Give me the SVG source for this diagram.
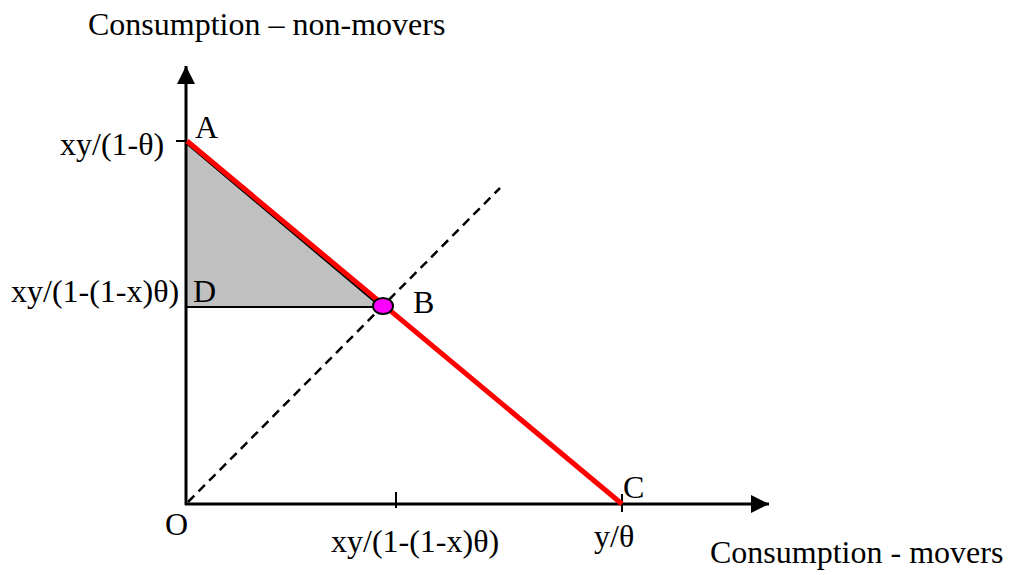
<svg xmlns="http://www.w3.org/2000/svg" width="1011" height="575" viewBox="0 0 1011 575">
<style>
text{font-family:"Liberation Serif","Times New Roman",serif;font-size:32px;fill:#000}
.ax{stroke:#000;stroke-width:3;fill:none}
.tk{stroke:#000;stroke-width:2;fill:none}
</style>
<defs>
<marker id="ah" markerUnits="userSpaceOnUse" markerWidth="20" markerHeight="18" refX="18" refY="9" orient="auto">
<path d="M0,0 L18,9 L0,18 Z" fill="#000"/>
</marker>
</defs>
<rect width="1011" height="575" fill="#fff"/>
<g id="shading">
<polygon points="186,143 186,307 381,307" fill="#c0c0c0" stroke="#000" stroke-width="2"/>
</g>
<g id="connectors">
<line class="ax" x1="186" y1="505" x2="186" y2="66" marker-end="url(#ah)"/>
<line class="ax" x1="185" y1="504" x2="769" y2="504" marker-end="url(#ah)"/>
<line x1="188" y1="502" x2="500" y2="188" stroke="#000" stroke-width="2.5" stroke-dasharray="9,6"/>
<line class="tk" x1="176" y1="141" x2="186" y2="141"/>
<line class="tk" x1="396" y1="492" x2="396" y2="508"/>
<line class="tk" x1="622" y1="494" x2="622" y2="512"/>
<line x1="187" y1="141" x2="622" y2="504" stroke="#f00" stroke-width="5"/>
</g>
<g id="pointB">
<ellipse cx="383" cy="306" rx="10" ry="8" fill="#f0f" stroke="#000" stroke-width="2"/>
</g>
<g id="labels">
<text x="88" y="35">Consumption – non-movers</text>
<text x="60" y="155">xy/(1-θ)</text>
<text x="195" y="138">A</text>
<text x="11" y="302">xy/(1-(1-x)θ)</text>
<text x="193" y="302">D</text>
<text x="413" y="313">B</text>
<text x="165" y="535">O</text>
<text x="331" y="552">xy/(1-(1-x)θ)</text>
<text x="594" y="547">y/θ</text>
<text x="623" y="498">C</text>
<text x="710" y="563">Consumption - movers</text>
</g>
</svg>
